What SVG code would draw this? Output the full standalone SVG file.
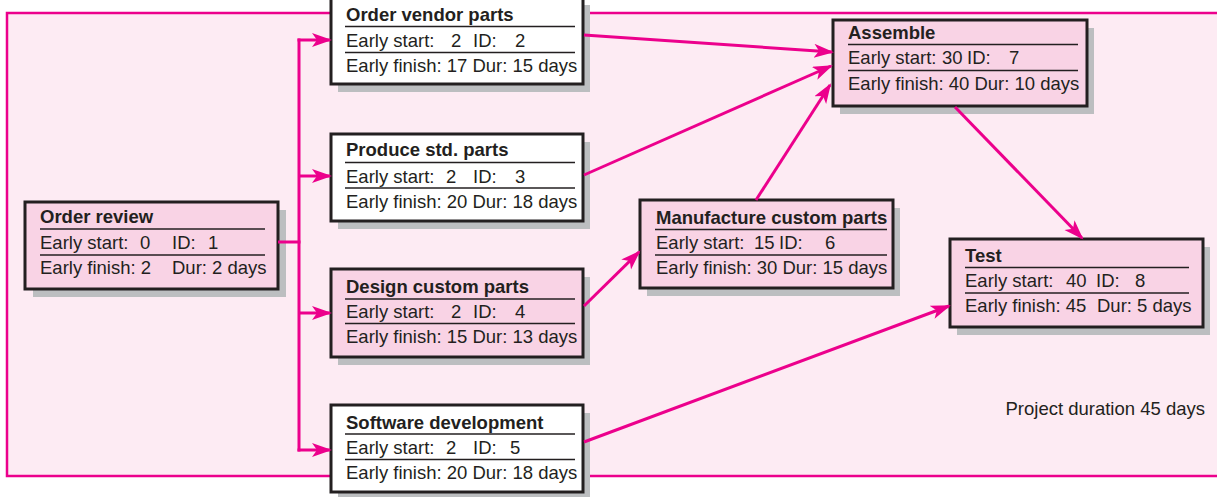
<svg xmlns="http://www.w3.org/2000/svg" width="1217" height="497" viewBox="0 0 1217 497">
<defs>
<style>
.frame{fill:#fdebf3;stroke:#ec008c;stroke-width:2.5}
.sh{fill:#bcbec0}
.bw{fill:#ffffff;stroke:#231f20;stroke-width:3}
.bp{fill:#f9d3e5;stroke:#231f20;stroke-width:3}
.sep{stroke:#231f20;stroke-width:1.5}
text{font-family:"Liberation Sans",Arial,sans-serif;font-size:18.5px;fill:#231f20}
.t{font-weight:bold}
.c{stroke:#ec008c;stroke-width:3;fill:none}
.a{marker-end:url(#ah)}
</style>
<marker id="ah" markerUnits="userSpaceOnUse" markerWidth="22" markerHeight="16" refX="18" refY="7" orient="auto">
<path d="M0,0 L20,7 L0,14 L5,7 Z" fill="#ec008c"/>
</marker>
</defs>
<rect class="frame" x="7" y="13" width="1220" height="463"/>
<text x="1205" y="415" text-anchor="end">Project duration 45 days</text>

<g id="n1">
<rect class="sh" x="33" y="210" width="253" height="87"/>
<rect class="bp" x="25" y="202" width="253" height="87"/>
<text class="t" x="40" y="223">Order review</text>
<line class="sep" x1="40" y1="229" x2="265" y2="229"/>
<text y="249"><tspan x="40">Early start:</tspan><tspan x="140">0</tspan><tspan x="172">ID:</tspan><tspan x="208">1</tspan></text>
<line class="sep" x1="40" y1="255" x2="265" y2="255"/>
<text y="274"><tspan x="40">Early finish: 2</tspan><tspan x="172">Dur: 2 days</tspan></text>
</g>

<g id="n2">
<rect class="sh" x="338" y="5" width="252" height="87"/>
<rect class="bw" x="331" y="-3" width="252" height="87"/>
<text class="t" x="346" y="21">Order vendor parts</text>
<line class="sep" x1="345" y1="26.5" x2="575" y2="26.5"/>
<text y="47"><tspan x="346">Early start:</tspan><tspan x="451">2</tspan><tspan x="473">ID:</tspan><tspan x="515">2</tspan></text>
<line class="sep" x1="345" y1="52.5" x2="575" y2="52.5"/>
<text x="346" y="72">Early finish: 17 Dur: 15 days</text>
</g>

<g id="n3">
<rect class="sh" x="338" y="142" width="252" height="87"/>
<rect class="bw" x="331" y="134" width="252" height="87"/>
<text class="t" x="346" y="156">Produce std. parts</text>
<line class="sep" x1="345" y1="162.5" x2="575" y2="162.5"/>
<text y="182.5"><tspan x="346">Early start:</tspan><tspan x="446">2</tspan><tspan x="473">ID:</tspan><tspan x="515">3</tspan></text>
<line class="sep" x1="345" y1="188" x2="575" y2="188"/>
<text x="346" y="207.5">Early finish: 20 Dur: 18 days</text>
</g>

<g id="n4">
<rect class="sh" x="338" y="277" width="252" height="88"/>
<rect class="bp" x="331" y="269" width="252" height="88"/>
<text class="t" x="346" y="292.5">Design custom parts</text>
<line class="sep" x1="345" y1="299" x2="575" y2="299"/>
<text y="318"><tspan x="346">Early start:</tspan><tspan x="451">2</tspan><tspan x="473">ID:</tspan><tspan x="515">4</tspan></text>
<line class="sep" x1="345" y1="323.5" x2="575" y2="323.5"/>
<text x="346" y="343">Early finish: 15 Dur: 13 days</text>
</g>

<g id="n5">
<rect class="sh" x="338" y="413" width="252" height="87"/>
<rect class="bw" x="331" y="405" width="252" height="87"/>
<text class="t" x="346" y="428.5">Software development</text>
<line class="sep" x1="345" y1="434" x2="575" y2="434"/>
<text y="453.5"><tspan x="346">Early start:</tspan><tspan x="446">2</tspan><tspan x="473">ID:</tspan><tspan x="510">5</tspan></text>
<line class="sep" x1="345" y1="459.5" x2="575" y2="459.5"/>
<text x="346" y="478.5">Early finish: 20 Dur: 18 days</text>
</g>

<g id="n6">
<rect class="sh" x="647" y="208" width="253" height="88"/>
<rect class="bp" x="640" y="200" width="253" height="88"/>
<text class="t" x="656" y="223.5">Manufacture custom parts</text>
<line class="sep" x1="655" y1="229.5" x2="887" y2="229.5"/>
<text y="249"><tspan x="656">Early start:</tspan><tspan x="754">15</tspan><tspan x="779">ID:</tspan><tspan x="825">6</tspan></text>
<line class="sep" x1="655" y1="255" x2="887" y2="255"/>
<text x="656" y="273.5">Early finish: 30 Dur: 15 days</text>
</g>

<g id="n7">
<rect class="sh" x="840" y="28" width="254" height="86"/>
<rect class="bp" x="833" y="20" width="254" height="86"/>
<text class="t" x="848" y="38.5">Assemble</text>
<line class="sep" x1="848" y1="44.5" x2="1078" y2="44.5"/>
<text y="64"><tspan x="848">Early start:</tspan><tspan x="942">30</tspan><tspan x="967">ID:</tspan><tspan x="1009">7</tspan></text>
<line class="sep" x1="848" y1="70.5" x2="1078" y2="70.5"/>
<text x="848" y="90">Early finish: 40 Dur: 10 days</text>
</g>

<g id="n8">
<rect class="sh" x="957" y="247" width="253" height="88"/>
<rect class="bp" x="950" y="239" width="253" height="88"/>
<text class="t" x="965" y="261.5">Test</text>
<line class="sep" x1="965" y1="267.5" x2="1189" y2="267.5"/>
<text y="287"><tspan x="965">Early start:</tspan><tspan x="1066">40</tspan><tspan x="1096">ID:</tspan><tspan x="1135">8</tspan></text>
<line class="sep" x1="965" y1="293" x2="1189" y2="293"/>
<text y="312"><tspan x="965">Early finish: 45</tspan><tspan x="1097">Dur: 5 days</tspan></text>
</g>

<g id="connectors">
<line class="c" x1="278" y1="242" x2="300.5" y2="242"/>
<line class="c" x1="299" y1="38.5" x2="299" y2="451.5"/>
<line class="c a" x1="297.5" y1="40" x2="330" y2="40"/>
<line class="c a" x1="299" y1="176" x2="330" y2="176"/>
<line class="c a" x1="299" y1="313" x2="330" y2="313"/>
<line class="c a" x1="297.5" y1="450" x2="330" y2="450"/>
<line class="c a" x1="584" y1="35" x2="832" y2="52"/>
<line class="c a" x1="584" y1="175" x2="831" y2="66"/>
<line class="c a" x1="756" y1="200" x2="830" y2="85"/>
<line class="c a" x1="955" y1="107" x2="1082" y2="238"/>
<line class="c a" x1="584" y1="306" x2="639" y2="252"/>
<line class="c a" x1="584" y1="442" x2="949" y2="306"/>
</g>
</svg>
